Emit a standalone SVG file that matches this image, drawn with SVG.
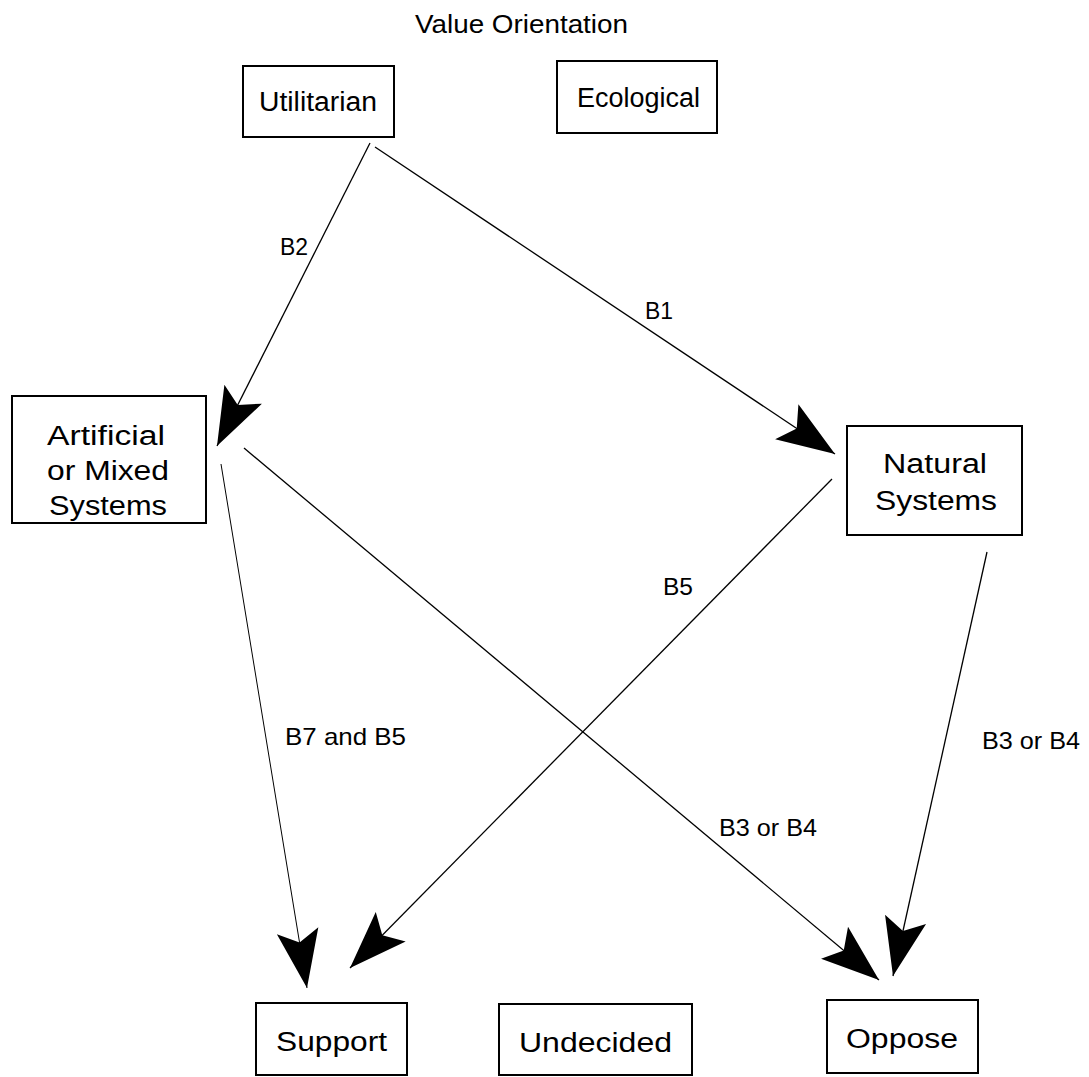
<svg xmlns="http://www.w3.org/2000/svg" width="1089" height="1077" viewBox="0 0 1089 1077">
  <style>
    .box { fill: #ffffff; stroke: #000000; stroke-width: 2; }
    .nt { font-family: "Liberation Sans", Arial, Helvetica, sans-serif; font-size: 27px; fill: #000; text-anchor: middle; }
    .lbl { font-family: "Liberation Sans", Arial, Helvetica, sans-serif; font-size: 24px; fill: #000; }
    .title { font-family: "Liberation Sans", Arial, Helvetica, sans-serif; font-size: 25px; fill: #000; text-anchor: middle; }
    .edge { stroke: #000; stroke-width: 1.3; fill: none; marker-end: url(#dart); }
  </style>
  <defs>
    <marker id="dart" markerUnits="userSpaceOnUse" markerWidth="62" markerHeight="50" viewBox="-60 -25 62 50" refX="0" refY="0" orient="auto">
      <path d="M0,0 L-58,-21 L-46,0 L-58,21 Z" fill="#000"/>
    </marker>
  </defs>
  <rect width="1089" height="1077" fill="#ffffff"/>

  <text class="title" x="521.5" y="33" textLength="213" lengthAdjust="spacingAndGlyphs">Value Orientation</text>

  <g id="connectors">
    <line class="edge" x1="370" y1="143" x2="217" y2="446"/>
    <line class="edge" x1="375" y1="147" x2="835" y2="454"/>
    <line class="edge" x1="244" y1="448" x2="879" y2="980"/>
    <line class="edge" x1="221" y1="464" x2="307" y2="988" style="stroke-width:1"/>
    <line class="edge" x1="832" y1="479" x2="350" y2="968"/>
    <line class="edge" x1="987" y1="552" x2="893" y2="976"/>
    <text class="lbl" x="280" y="255" textLength="28" lengthAdjust="spacingAndGlyphs">B2</text>
    <text class="lbl" x="645" y="319" textLength="28" lengthAdjust="spacingAndGlyphs">B1</text>
    <text class="lbl" x="663" y="595" textLength="30" lengthAdjust="spacingAndGlyphs">B5</text>
    <text class="lbl" x="285" y="745" textLength="121" lengthAdjust="spacingAndGlyphs">B7 and B5</text>
    <text class="lbl" x="719" y="836" textLength="98" lengthAdjust="spacingAndGlyphs">B3 or B4</text>
    <text class="lbl" x="982" y="749" textLength="98" lengthAdjust="spacingAndGlyphs">B3 or B4</text>
  </g>

  <g id="utilitarian">
    <rect class="box" x="243" y="66" width="151" height="71"/>
    <text class="nt" x="318" y="111" textLength="118" lengthAdjust="spacingAndGlyphs">Utilitarian</text>
  </g>
  <g id="ecological">
    <rect class="box" x="557" y="61" width="160" height="72"/>
    <text class="nt" x="638.5" y="107" textLength="123" lengthAdjust="spacingAndGlyphs">Ecological</text>
  </g>
  <g id="artificial">
    <rect class="box" x="12" y="396" width="194" height="127"/>
    <text class="nt" x="106" y="445" textLength="118" lengthAdjust="spacingAndGlyphs">Artificial</text>
    <text class="nt" x="108" y="480" textLength="122" lengthAdjust="spacingAndGlyphs">or Mixed</text>
    <text class="nt" x="108" y="515" textLength="118" lengthAdjust="spacingAndGlyphs">Systems</text>
  </g>
  <g id="natural">
    <rect class="box" x="847" y="426" width="175" height="109"/>
    <text class="nt" x="935" y="473" textLength="104" lengthAdjust="spacingAndGlyphs">Natural</text>
    <text class="nt" x="936" y="510" textLength="122" lengthAdjust="spacingAndGlyphs">Systems</text>
  </g>
  <g id="support">
    <rect class="box" x="256" y="1003" width="151" height="72"/>
    <text class="nt" x="331.5" y="1051" textLength="111" lengthAdjust="spacingAndGlyphs">Support</text>
  </g>
  <g id="undecided">
    <rect class="box" x="499" y="1004" width="193" height="71"/>
    <text class="nt" x="595.5" y="1052" textLength="153" lengthAdjust="spacingAndGlyphs">Undecided</text>
  </g>
  <g id="oppose">
    <rect class="box" x="827" y="1000" width="151" height="73"/>
    <text class="nt" x="902" y="1048" textLength="112" lengthAdjust="spacingAndGlyphs">Oppose</text>
  </g>
</svg>
